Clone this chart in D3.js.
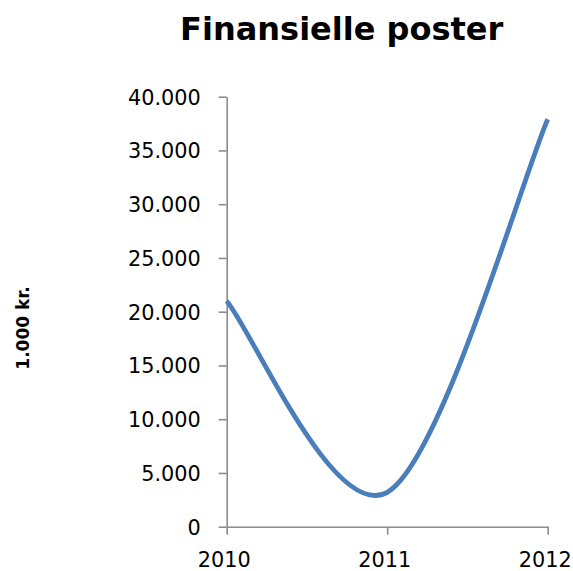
<!DOCTYPE html>
<html>
<head>
<meta charset="utf-8">
<script src="https://cdn.jsdelivr.net/npm/d3@7"></script>
<style>
  html, body { margin: 0; padding: 0; background: #fff; }
  svg { display: block; }
</style>
</head>
<body>
<svg id="chart" width="573" height="571"></svg>
<script>
const title = "Finansielle poster";
const yTitle = "1.000 kr.";
const years = [2010, 2011, 2012];
const values = [21000, 3200, 37900];
const yTicks = [0, 5000, 10000, 15000, 20000, 25000, 30000, 35000, 40000];

const svg = d3.select("#chart");
const x = d3.scaleLinear().domain([2010, 2012]).range([226.7, 547.7]);
const y = d3.scaleLinear().domain([0, 40000]).range([526.7, 96.7]);

const da = d3.formatLocale({decimal: ",", thousands: ".", grouping: [3], currency: ["", " kr."]});
const fmt = da.format(",d");

// Excel-like smoothing: cubic Bezier with control points at 1/6 of neighbour differences,
// endpoints duplicated.
function ExcelSmooth(context) { this._context = context; }
ExcelSmooth.prototype = {
  areaStart() { this._line = 0; },
  areaEnd() { this._line = NaN; },
  lineStart() { this._pts = []; },
  point(px, py) { this._pts.push([+px, +py]); },
  lineEnd() {
    const p = this._pts, n = p.length, c = this._context;
    if (!n) return;
    c.moveTo(p[0][0], p[0][1]);
    for (let i = 0; i < n - 1; i++) {
      const p0 = p[Math.max(0, i - 1)], p1 = p[i], p2 = p[i + 1], p3 = p[Math.min(n - 1, i + 2)];
      c.bezierCurveTo(
        p1[0] + (p2[0] - p0[0]) / 6, p1[1] + (p2[1] - p0[1]) / 6,
        p2[0] - (p3[0] - p1[0]) / 6, p2[1] - (p3[1] - p1[1]) / 6,
        p2[0], p2[1]);
    }
  }
};
const excelCurve = ctx => new ExcelSmooth(ctx);

const axisColor = "#8c8c8c";
const fontFam = "Verdana, 'DejaVu Sans', sans-serif";

// Y axis
const gy = svg.append("g").attr("transform", `translate(${x(2010)},0)`)
  .call(d3.axisLeft(y).tickValues(yTicks).tickFormat(fmt).tickSize(8).tickSizeOuter(0).tickPadding(18));
// X axis
const gx = svg.append("g").attr("transform", `translate(0,${y(0)})`)
  .call(d3.axisBottom(x).tickValues(years).tickFormat(d3.format("d")).tickSize(8).tickSizeOuter(0).tickPadding(14));

[gx, gy].forEach(g => {
  g.select(".domain").attr("stroke", axisColor).attr("stroke-width", 1.6);
  g.selectAll(".tick line").attr("stroke", axisColor).attr("stroke-width", 1.6);
  g.selectAll(".tick text").attr("fill", "#000").style("font-family", fontFam).style("font-size", "20.8px");
});
gx.selectAll(".tick text").attr("dx", -3).attr("dy", "0.9em");
gy.selectAll(".tick text").attr("dy", "0.36em");

// Line
const line = d3.line().x((d, i) => x(years[i])).y(d => y(d)).curve(excelCurve);
svg.append("path").datum(values)
  .attr("d", line)
  .attr("fill", "none")
  .attr("stroke", "#4a7ebb")
  .attr("stroke-width", 4.8)
  .attr("stroke-linecap", "butt")
  .attr("stroke-linejoin", "round");

// Title
svg.append("text").attr("x", 341.7).attr("y", 40)
  .attr("text-anchor", "middle")
  .style("font-family", fontFam).style("font-weight", "bold").style("font-size", "32px")
  .text(title);

// Y title
svg.append("text").attr("transform", "translate(28.5,328) rotate(-90)")
  .attr("text-anchor", "middle")
  .style("font-family", fontFam).style("font-weight", "bold").style("font-size", "17px")
  .text(yTitle);
</script>
</body>
</html>
